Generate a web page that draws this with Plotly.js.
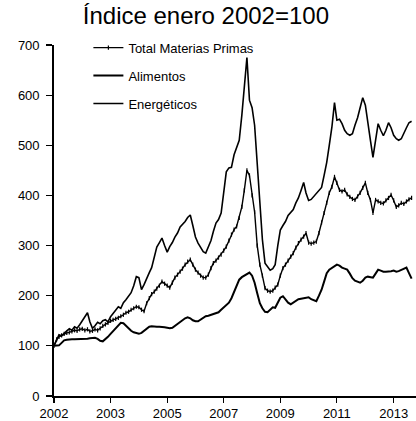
<!DOCTYPE html>
<html>
<head>
<meta charset="utf-8">
<script src="https://cdn.plot.ly/plotly-3.0.1.min.js"></script>
<style>
html,body{margin:0;padding:0;background:#fff;}
#chart{width:416px;height:421px;}
</style>
</head>
<body>
<div id="chart"></div>
<script>
// Monthly series, index Jan 2002 = 100
const startYear = 2002;
const seriesNames = ["Total Materias Primas", "Alimentos", "Energéticos"];

const totalMP = [
100,113,118,121,124,126,127,129,131,130,
133,134,131,133,129,130,133,131,135,140,
143,146,150,152,154,156,159,162,166,168,
172,175,178,177,172,169,185,195,203,208,
214,220,228,224,220,216,226,236,242,248,
254,262,268,272,262,252,246,240,236,236,
242,255,265,270,276,282,290,298,310,322,
332,338,355,377,410,450,440,400,367,300,
262,240,215,210,208,210,216,222,240,255,
262,270,278,285,296,305,312,318,325,306,
304,306,308,325,346,365,385,405,417,437,
425,411,408,411,402,397,393,391,398,405,
415,425,405,391,365,391,388,385,384,390,
395,401,390,377,380,385,383,388,392,395
];

const alimentos = [
100,100,101,106,111,112,113,113,113,113,
114,114,114,114,115,115,116,114,110,109,
113,118,124,130,135,141,146,145,140,134,
130,127,125,124,126,130,135,138,139,138,
138,138,138,137,136,135,136,140,144,148,
152,155,157,155,151,149,149,152,155,159,
160,162,163,165,167,172,177,181,186,195,
208,218,232,237,240,243,246,240,226,205,
185,175,168,167,172,177,176,185,196,199,
192,186,183,186,190,193,194,195,196,197,
193,191,189,200,212,228,245,252,256,260,
262,260,256,254,252,244,235,230,228,226,
230,236,238,237,236,244,252,250,248,248,
248,249,250,248,249,251,254,256,245,234
];

const energeticos = [
100,112,122,120,126,130,134,131,138,135,
142,150,160,166,148,135,140,147,144,150,
152,148,158,164,170,178,175,186,192,198,
206,220,238,236,212,222,236,246,256,278,
297,306,315,300,287,298,306,317,325,337,
342,348,356,361,340,317,305,296,288,285,
298,310,328,345,352,365,405,447,455,456,
481,496,510,560,620,675,590,575,540,460,
380,312,265,257,251,254,262,300,331,340,
348,360,366,372,385,395,410,426,405,390,
392,398,405,412,416,440,466,500,536,585,
550,552,543,530,523,520,523,540,555,575,
595,580,550,510,476,515,543,530,519,530,
545,535,520,513,510,513,525,535,545,548
];

// Month labels (x categories)
const months = [];
for (let i = 0; i < totalMP.length; i++) {
  const y = startYear + Math.floor(i / 12);
  const m = (i % 12) + 1;
  months.push(y + "-" + (m < 10 ? "0" + m : m) + "-01");
}

// Axis tick positions / labels (every 22 months as in the original)
const xTickVals = ["2002-01-01","2003-11-01","2005-09-01","2007-07-01","2009-05-01","2011-03-01","2013-01-01"];
const xTickText = ["2002","2003","2005","2007","2009","2011","2013"];
const yTickVals = [0,100,200,300,400,500,600,700];

const FONT = "Liberation Sans, Arial, sans-serif";

const traces = [
  {
    x: months, y: totalMP, name: seriesNames[0], type: "scatter", mode: "lines+markers",
    line: {color: "#000", width: 1.4},
    marker: {symbol: "line-ns-open", size: 3, color: "#000", line: {color: "#000", width: 1.2}},
    legendgroup: "a"
  },
  {
    x: months, y: alimentos, name: seriesNames[1], type: "scatter", mode: "lines",
    line: {color: "#000", width: 2.0},
    legendgroup: "b"
  },
  {
    x: months, y: energeticos, name: seriesNames[2], type: "scatter", mode: "lines",
    line: {color: "#000", width: 1.6},
    legendgroup: "c"
  }
];

const layout = {
  width: 416, height: 421,
  paper_bgcolor: "#fff", plot_bgcolor: "#fff",
  margin: {l: 54, r: 0, t: 45, b: 25},
  font: {family: FONT, color: "#000", size: 13},
  title: {
    text: "Índice enero 2002=100",
    font: {family: FONT, size: 24, color: "#000"},
    xref: "container", x: 0.495, xanchor: "center",
    yref: "container", y: 0.962, yanchor: "middle"
  },
  showlegend: true,
  legend: {
    x: 0.095, y: 1.035, xanchor: "left", yanchor: "top",
    bgcolor: "rgba(0,0,0,0)", borderwidth: 0,
    font: {family: FONT, size: 13, color: "#000"},
    tracegroupgap: 8, traceorder: "grouped"
  },
  xaxis: {
    type: "date",
    range: ["2002-01-01", "2013-09-22"],
    tickmode: "array", tickvals: xTickVals, ticktext: xTickText,
    ticks: "outside", ticklen: 5, tickwidth: 1.2, tickcolor: "#000",
    showline: true, linecolor: "#000", linewidth: 1.8,
    showgrid: false, zeroline: false,
    tickfont: {family: FONT, size: 13, color: "#000"}
  },
  yaxis: {
    range: [0, 700],
    tickmode: "array", tickvals: yTickVals,
    ticks: "outside", ticklen: 6, tickwidth: 1.2, tickcolor: "#000",
    ticklabelstandoff: 4,
    showline: true, linecolor: "#000", linewidth: 1.8,
    showgrid: false, zeroline: false,
    tickfont: {family: FONT, size: 13, color: "#000"}
  }
};

Plotly.newPlot("chart", traces, layout, {staticPlot: true, displayModeBar: false});
</script>
</body>
</html>
